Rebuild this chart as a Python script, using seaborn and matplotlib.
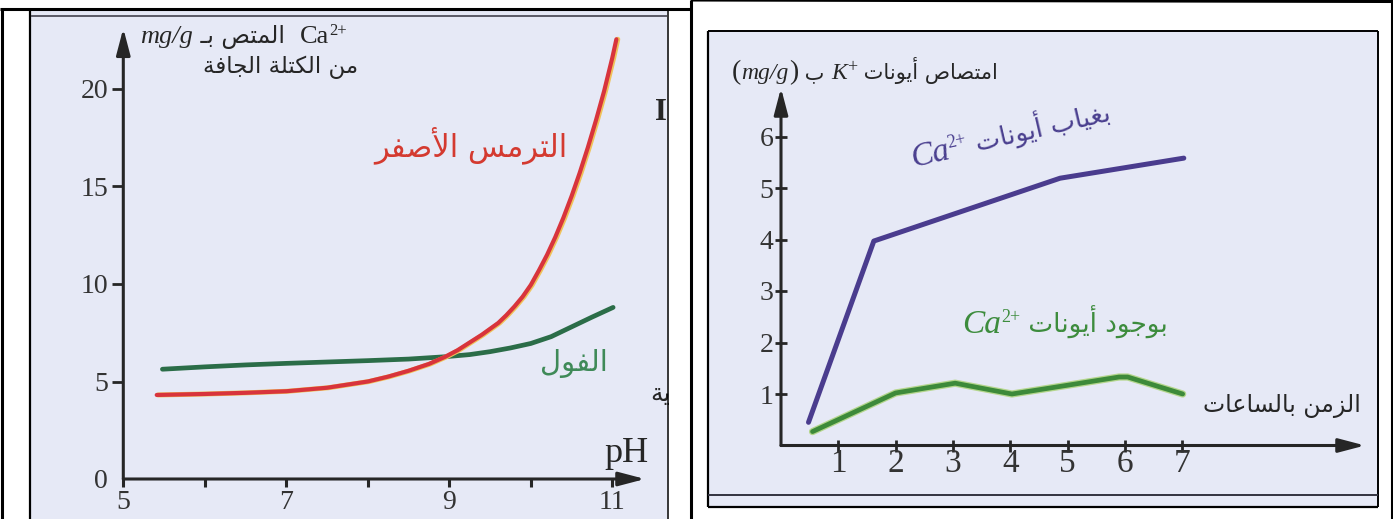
import numpy as np
import matplotlib
matplotlib.use("Agg")
import matplotlib.pyplot as plt
import matplotlib.patheffects as pe
from matplotlib.lines import Line2D
from matplotlib.patches import Rectangle
import seaborn as sns

# left panel: Ca2+ absorbed (mg/g dry mass) against pH
ph_lupine = [5.41, 6.0, 6.5, 7.0, 7.5, 8.0, 8.25, 8.5, 8.75, 8.95, 9.1, 9.25, 9.4, 9.5, 9.6, 9.7,
             9.8, 9.9, 10.0, 10.1, 10.2, 10.3, 10.4, 10.5, 10.6, 10.7, 10.8, 10.9, 11.0, 11.05]
ca_lupine = [4.31, 4.36, 4.42, 4.5, 4.68, 5.0, 5.25, 5.55, 5.9, 6.27, 6.6, 7.0, 7.4, 7.7, 8.0, 8.4,
             8.85, 9.35, 9.95, 10.7, 11.5, 12.4, 13.4, 14.5, 15.7, 17.0, 18.4, 19.9, 21.6, 22.55]
ph_bean = [5.48, 6.0, 6.5, 7.0, 7.5, 8.0, 8.5, 8.95, 9.25, 9.5, 9.75, 10.0, 10.25, 10.5, 10.75, 11.01]
ca_bean = [5.63, 5.75, 5.85, 5.93, 6.0, 6.07, 6.15, 6.27, 6.38, 6.53, 6.72, 6.95, 7.3, 7.8, 8.3, 8.8]
ph_ticks = [5, 6, 7, 8, 9, 10, 11]
ph_ticklabels = ["5", "", "7", "", "9", "", "11"]
ca_ticks = [0, 5, 10, 15, 20]

# right panel: K+ uptake against time (hours)
hours_no_ca = [0.48, 1.62, 4.87, 7.03]
k_no_ca = [0.45, 3.97, 5.19, 5.58]
hours_with_ca = [0.55, 2.0, 3.04, 4.03, 5.0, 5.9, 6.05, 7.01]
k_with_ca = [0.27, 1.02, 1.21, 1.0, 1.17, 1.33, 1.33, 1.0]
hour_ticks = [1, 2, 3, 4, 5, 6, 7]
k_ticks = [1, 2, 3, 4, 5, 6]

W, H = 1393, 519
SERIF = ["Liberation Serif", "DejaVu Sans"]
ARAB = ["DejaVu Sans"]
INK = "#262626"
PAPER = "#e6e9f6"

# minimal Arabic shaping: presentation forms (isolated, final, initial, medial)
FORMS = {
    "ا": (0xFE8D, 0xFE8E, None, None), "أ": (0xFE83, 0xFE84, None, None),
    "ب": (0xFE8F, 0xFE90, 0xFE91, 0xFE92), "ة": (0xFE93, 0xFE94, None, None),
    "ت": (0xFE95, 0xFE96, 0xFE97, 0xFE98), "ج": (0xFE9D, 0xFE9E, 0xFE9F, 0xFEA0),
    "د": (0xFEA9, 0xFEAA, None, None), "ر": (0xFEAD, 0xFEAE, None, None),
    "ز": (0xFEAF, 0xFEB0, None, None), "س": (0xFEB1, 0xFEB2, 0xFEB3, 0xFEB4),
    "ص": (0xFEB9, 0xFEBA, 0xFEBB, 0xFEBC), "ع": (0xFEC9, 0xFECA, 0xFECB, 0xFECC),
    "غ": (0xFECD, 0xFECE, 0xFECF, 0xFED0), "ف": (0xFED1, 0xFED2, 0xFED3, 0xFED4),
    "ك": (0xFED9, 0xFEDA, 0xFEDB, 0xFEDC), "ل": (0xFEDD, 0xFEDE, 0xFEDF, 0xFEE0),
    "م": (0xFEE1, 0xFEE2, 0xFEE3, 0xFEE4), "ن": (0xFEE5, 0xFEE6, 0xFEE7, 0xFEE8),
    "و": (0xFEED, 0xFEEE, None, None), "ي": (0xFEF1, 0xFEF2, 0xFEF3, 0xFEF4),
    "ـ": (0x0640, 0x0640, 0x0640, 0x0640),
}
LAM_ALEF = {"ا": (0xFEFB, 0xFEFC), "أ": (0xFEF7, 0xFEF8)}


def joins_next(c):
    return c in FORMS and FORMS[c][2] is not None


def shape(text):
    out = []
    i = 0
    while i < len(text):
        c = text[i]
        if c not in FORMS:
            out.append(c)
            i += 1
            continue
        linked_prev = i > 0 and joins_next(text[i - 1])
        if c == "ل" and i + 1 < len(text) and text[i + 1] in LAM_ALEF:
            iso, fin = LAM_ALEF[text[i + 1]]
            out.append(chr(fin if linked_prev else iso))
            i += 2
            continue
        linked_next = joins_next(c) and i + 1 < len(text) and text[i + 1] in FORMS
        iso, fin, ini, med = FORMS[c]
        if linked_prev and linked_next:
            g = med
        elif linked_prev:
            g = fin
        elif linked_next:
            g = ini
        else:
            g = iso
        out.append(chr(g))
        i += 1
    return "".join(reversed(out))


sns.set_style("white")
plt.rcParams["font.family"] = SERIF
plt.rcParams["axes.unicode_minus"] = False

fig = plt.figure(figsize=(W / 100, H / 100), dpi=100)
fig.patch.set_facecolor("white")


def box(px, py, pw, ph):
    return [px / W, 1 - (py + ph) / H, pw / W, ph / H]


def draw_run(x0, y0, pieces, rotation=0.0, color=INK):
    renderer = fig.canvas.get_renderer()
    ang = np.deg2rad(rotation)
    cx, cy = x0, H - y0
    for s, kw in pieces:
        kw = dict(kw)
        rise = kw.pop("rise", 0.0)
        px = cx - rise * np.sin(ang)
        py = cy + rise * np.cos(ang)
        t = fig.text(px / W, py / H, s, ha="left", va="baseline",
                     rotation_mode="anchor", color=color, **kw)
        w = t.get_window_extent(renderer).width
        t.set_rotation(rotation)
        cx += w * np.cos(ang)
        cy += w * np.sin(ang)


def label(px, py, s, **kw):
    fig.text(px / W, 1 - py / H, s, ha="center", va="center", **kw)


# scanned paper backgrounds
fig.add_artist(Rectangle((31 / W, 0), 636 / W, 1 - 11 / H, transform=fig.transFigure,
                         facecolor=PAPER, edgecolor="none", zorder=-2))
fig.add_artist(Rectangle((709 / W, 1 - 506 / H), 668 / W, 474 / H, transform=fig.transFigure,
                         facecolor=PAPER, edgecolor="none", zorder=-2))


def arrow_axes(ax, lw):
    head = "-|>,head_length=1.6,head_width=0.42"
    ax.annotate("", xy=(1, 0), xytext=(0, 0), xycoords="axes fraction",
                arrowprops=dict(arrowstyle=head, lw=lw, color=INK, shrinkA=0, shrinkB=0,
                                mutation_scale=10), annotation_clip=False)
    ax.annotate("", xy=(0, 1), xytext=(0, 0), xycoords="axes fraction",
                arrowprops=dict(arrowstyle=head, lw=lw, color=INK, shrinkA=0, shrinkB=0,
                                mutation_scale=10), annotation_clip=False)
    for sp in ax.spines.values():
        sp.set_visible(False)
    ax.patch.set_alpha(0)


# ---- left panel ----
axl = fig.add_axes(box(123.3, 28.3, 645 - 123.3, 479 - 28.3))
sns.lineplot(x=ph_bean, y=ca_bean, ax=axl, color="#2b6d48", linewidth=3.4)
sns.lineplot(x=ph_lupine, y=ca_lupine, ax=axl, color="#d8343c", linewidth=3.0,
             path_effects=[pe.Stroke(linewidth=3.6, foreground="#f0c35a", offset=(1.0, 0)),
                           pe.Normal()])
axl.set_xlim(5, 5 + (645 - 123.3) / 81.5)
axl.set_ylim(0, (479 - 28.3) / 19.5)
axl.set_xticks(ph_ticks)
axl.set_xticklabels(ph_ticklabels)
axl.set_yticks(ca_ticks)
axl.set_yticklabels([str(v) for v in ca_ticks])
axl.tick_params(axis="y", direction="out", length=8, width=2, color=INK, pad=3,
                labelsize=20, labelcolor="#333333", left=True)
axl.tick_params(axis="x", direction="out", length=6, width=2.2, color=INK, pad=2,
                labelsize=20, labelcolor="#333333", bottom=True)
axl.yaxis.get_major_ticks()[0].tick1line.set_visible(False)
axl.set_xlabel("")
axl.set_ylabel("")
arrow_axes(axl, 2.2)

draw_run(140, 43, [
    ("mg/g", dict(family=SERIF, fontsize=19, style="italic")),
    (" " + shape("المتص بـ") + "  ", dict(family=ARAB, fontsize=17)),
    ("Ca", dict(family=SERIF, fontsize=19)),
    ("2+", dict(family=SERIF, fontsize=12, rise=8)),
])
label(281, 67, shape("من الكتلة الجافة"), family=ARAB, fontsize=16.5, color=INK)
label(471, 145, shape("الترمس الأصفر"), family=ARAB, fontsize=22, color="#d43a30")
label(574, 363, shape("الفول"), family=ARAB, fontsize=21, color="#3f8a58")
label(626, 453, "pH", family=SERIF, fontsize=26, color=INK)
label(661, 112, "I", family=SERIF, fontsize=22, color=INK, fontweight="bold")
label(660, 394, shape("ية"), family=ARAB, fontsize=18, color=INK)

# ---- right panel ----
axr = fig.add_axes(box(781, 88, 1365 - 781, 445.5 - 88))
sns.lineplot(x=hours_no_ca, y=k_no_ca, ax=axr, color="#4a3c8e", linewidth=3.6)
sns.lineplot(x=hours_with_ca, y=k_with_ca, ax=axr, color="#3d8a3a", linewidth=3.4,
             path_effects=[pe.Stroke(linewidth=5.2, foreground="#b4d68c"), pe.Normal()])
axr.set_xlim(0, (1365 - 781) / 57.3)
axr.set_ylim(0, (445.5 - 88) / 51.5)
axr.set_xticks(hour_ticks)
axr.set_xticklabels([str(v) for v in hour_ticks])
axr.set_yticks(k_ticks)
axr.set_yticklabels([str(v) for v in k_ticks])
axr.tick_params(axis="y", direction="inout", length=9, width=2, color=INK, pad=1,
                labelsize=20, labelcolor="#333333", left=True)
axr.tick_params(axis="x", direction="inout", length=9, width=2, color=INK, pad=-2,
                labelsize=24, labelcolor="#333333", bottom=True)
axr.set_xlabel("")
axr.set_ylabel("")
arrow_axes(axr, 2.2)

draw_run(732, 79, [
    ("(", dict(family=SERIF, fontsize=20)),
    ("mg/g", dict(family=SERIF, fontsize=17, style="italic")),
    (")", dict(family=SERIF, fontsize=20)),
    (" " + shape("ب") + " ", dict(family=ARAB, fontsize=15)),
    ("K", dict(family=SERIF, fontsize=17, style="italic")),
    ("+", dict(family=SERIF, fontsize=13, rise=7)),
    (" " + shape("امتصاص أيونات"), dict(family=ARAB, fontsize=15)),
])
draw_run(913, 167, [
    ("Ca", dict(family=SERIF, fontsize=24, style="italic")),
    ("2+", dict(family=SERIF, fontsize=13, rise=11)),
    (" " + shape("بغياب أيونات"), dict(family=ARAB, fontsize=19)),
], rotation=13, color="#4a3f8f")
draw_run(962, 333, [
    ("Ca", dict(family=SERIF, fontsize=24, style="italic")),
    ("2+", dict(family=SERIF, fontsize=13, rise=11)),
    (" " + shape("بوجود أيونات"), dict(family=ARAB, fontsize=19)),
], color="#3d8c3d")
label(1282, 406, shape("الزمن بالساعات"), family=ARAB, fontsize=17, color=INK)

# ---- table frame ----
fig.add_artist(Rectangle((669 / W, 0), 21 / W, 1 - 10 / H, transform=fig.transFigure,
                         facecolor="white", edgecolor="none", zorder=9))


def rule(x1, y1, x2, y2, lw=2.2, color="black"):
    fig.add_artist(Line2D([x1 / W, x2 / W], [1 - y1 / H, 1 - y2 / H], transform=fig.transFigure,
                          color=color, lw=lw, zorder=10, solid_capstyle="butt"))


rule(1.5, 8, 1.5, 519)
rule(0, 9, 691, 9)
rule(691, 0, 1393, 1.5)
rule(691, 0, 691, 519)
rule(1391.5, 0, 1391.5, 519)
rule(30, 9, 30, 519, lw=1.6)
rule(668, 9, 668, 519, lw=1.1)
rule(31, 16, 667, 16, lw=1.4, color="#5a5a66")
rule(708, 31, 1378, 31, lw=1.4)
rule(708, 31, 708, 507, lw=1.6)
rule(1378, 31, 1378, 507, lw=1.4)
rule(708, 507, 1378, 507, lw=1.6)
rule(708, 495, 1378, 495, lw=1.4, color="#333340")

fig.savefig("out.png", dpi=100)
